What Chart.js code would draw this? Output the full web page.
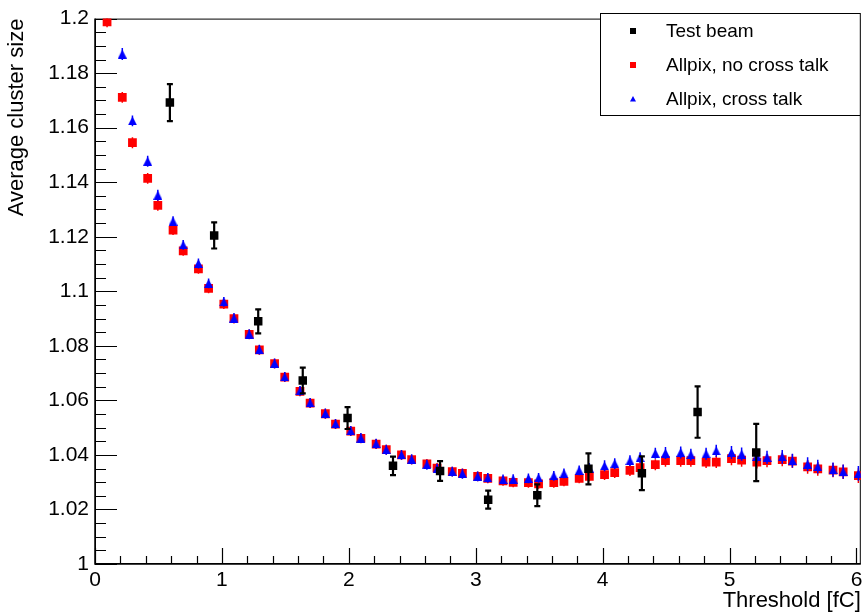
<!DOCTYPE html>
<html>
<head>
<meta charset="utf-8">
<title>Average cluster size vs threshold</title>
<script src="https://cdn.jsdelivr.net/npm/chart.js@4.4.0/dist/chart.umd.min.js"></script>
<style>
  html, body { margin: 0; padding: 0; background: #fff; }
  #plot { display: block; }
</style>
</head>
<body>
<canvas id="plot" width="867" height="614"></canvas>
<script>
// threshold scan points of the simulation (fC)
const thresholds = [0.095, 0.215, 0.295, 0.415, 0.495, 0.615, 0.695, 0.815, 0.895, 1.015,
    1.095, 1.215, 1.295, 1.415, 1.495, 1.615, 1.695, 1.815, 1.895, 2.015,
    2.095, 2.215, 2.295, 2.415, 2.495, 2.615, 2.695, 2.815, 2.895, 3.015,
    3.095, 3.215, 3.295, 3.415, 3.495, 3.615, 3.695, 3.815, 3.895, 4.015,
    4.095, 4.215, 4.295, 4.415, 4.495, 4.615, 4.695, 4.815, 4.895, 5.015,
    5.095, 5.215, 5.295, 5.415, 5.495, 5.615, 5.695, 5.815, 5.895, 6.015];

// Allpix without cross talk
const sizeNoCross = [1.1988, 1.1711, 1.1545, 1.1414, 1.1315, 1.1224, 1.1148, 1.1082, 1.1011, 1.0953,
    1.0900, 1.0842, 1.0785, 1.0735, 1.0685, 1.0633, 1.0590, 1.0551, 1.0513, 1.0487,
    1.0461, 1.0440, 1.0419, 1.0400, 1.0383, 1.0367, 1.0352, 1.0339, 1.0332, 1.0321,
    1.0314, 1.0305, 1.0299, 1.0298, 1.0294, 1.0298, 1.0303, 1.0314, 1.0321, 1.0328,
    1.0335, 1.0343, 1.0353, 1.0364, 1.0379, 1.0379, 1.0379, 1.0374, 1.0374, 1.0386,
    1.0381, 1.0374, 1.0379, 1.0383, 1.0377, 1.0356, 1.0349, 1.0344, 1.0338, 1.0324];
const errNoCross = [0.0020, 0.0020, 0.0020, 0.0020, 0.0020, 0.0018, 0.0018, 0.0018, 0.0018, 0.0018,
    0.0018, 0.0018, 0.0018, 0.0018, 0.0018, 0.0018, 0.0018, 0.0018, 0.0018, 0.0018,
    0.0018, 0.0018, 0.0018, 0.0018, 0.0018, 0.0018, 0.0018, 0.0018, 0.0018, 0.0018,
    0.0018, 0.0018, 0.0018, 0.0018, 0.0018, 0.0018, 0.0018, 0.0018, 0.0018, 0.0020,
    0.0020, 0.0020, 0.0020, 0.0020, 0.0022, 0.0022, 0.0022, 0.0022, 0.0022, 0.0024,
    0.0024, 0.0024, 0.0024, 0.0025, 0.0025, 0.0025, 0.0025, 0.0026, 0.0026, 0.0027];

// Allpix with cross talk (first point is above the frame)
const sizeCross = [null, 1.1870, 1.1625, 1.1477, 1.1352, 1.1257, 1.1170, 1.1102, 1.1029, 1.0961,
    1.0902, 1.0843, 1.0786, 1.0736, 1.0686, 1.0635, 1.0591, 1.0552, 1.0514, 1.0488,
    1.0462, 1.0441, 1.0419, 1.0400, 1.0384, 1.0364, 1.0350, 1.0339, 1.0331, 1.0321,
    1.0316, 1.0310, 1.0311, 1.0314, 1.0316, 1.0323, 1.0332, 1.0343, 1.0352, 1.0360,
    1.0368, 1.0379, 1.0390, 1.0406, 1.0407, 1.0409, 1.0401, 1.0404, 1.0415, 1.0409,
    1.0403, 1.0395, 1.0391, 1.0393, 1.0379, 1.0366, 1.0357, 1.0346, 1.0339, 1.0332];
const errCross = [0, 0.0022, 0.0020, 0.0020, 0.0020, 0.0018, 0.0018, 0.0018, 0.0018, 0.0018,
    0.0018, 0.0018, 0.0018, 0.0018, 0.0018, 0.0018, 0.0018, 0.0018, 0.0018, 0.0018,
    0.0018, 0.0018, 0.0018, 0.0018, 0.0018, 0.0018, 0.0018, 0.0018, 0.0018, 0.0018,
    0.0018, 0.0018, 0.0018, 0.0018, 0.0018, 0.0018, 0.0018, 0.0018, 0.0018, 0.0020,
    0.0020, 0.0020, 0.0020, 0.0020, 0.0022, 0.0022, 0.0022, 0.0022, 0.0022, 0.0024,
    0.0024, 0.0024, 0.0024, 0.0025, 0.0025, 0.0025, 0.0025, 0.0026, 0.0026, 0.0027];

// test beam measurements
const beamThreshold = [0.590, 0.939, 1.286, 1.637, 1.990, 2.348, 2.719, 3.098, 3.485, 3.888, 4.309, 4.748, 5.210];
const beamSize = [1.1692, 1.1205, 1.0890, 1.0673, 1.0535, 1.0360, 1.0341, 1.0236, 1.0252, 1.0349, 1.0333, 1.0557, 1.0409];
const beamErr = [0.0068, 0.0048, 0.0044, 0.0047, 0.0040, 0.0034, 0.0036, 0.0033, 0.0040, 0.0057, 0.0062, 0.0094, 0.0105];

const xTicks = [0, 1, 2, 3, 4, 5, 6];
const yTicks = [1, 1.02, 1.04, 1.06, 1.08, 1.1, 1.12, 1.14, 1.16, 1.18, 1.2];

const FONT = 'Liberation Sans, Arial, Helvetica, sans-serif';

function toPoints(xs, ys) {
    return xs.map((x, i) => ({ x: x, y: ys[i] }));
}

// upward triangle as an image so it can be taller than an equilateral one
function triangle(w, h, color) {
    const c = document.createElement('canvas');
    c.width = w;
    c.height = h;
    const g = c.getContext('2d');
    g.fillStyle = color;
    g.beginPath();
    g.moveTo(w / 2, 0);
    g.lineTo(w, h);
    g.lineTo(0, h);
    g.closePath();
    g.fill();
    return c;
}

// vertical error bars, drawn just before each dataset so markers sit on top
const errorBars = {
    id: 'errorBars',
    beforeDatasetDraw(chart, args) {
        const ds = chart.data.datasets[args.index];
        if (!ds.errors) return;
        const ctx = chart.ctx;
        const yScale = chart.scales.y;
        const area = chart.chartArea;
        ctx.save();
        ctx.beginPath();
        ctx.rect(area.left, area.top, area.right - area.left, area.bottom - area.top);
        ctx.clip();
        ctx.strokeStyle = ds.errColor;
        ctx.lineWidth = ds.errWidth;
        args.meta.data.forEach((pt, i) => {
            const v = ds.data[i].y;
            const e = ds.errors[i];
            if (v === null || !e) return;
            const top = yScale.getPixelForValue(v + e);
            const bot = yScale.getPixelForValue(v - e);
            ctx.beginPath();
            ctx.moveTo(pt.x, top);
            ctx.lineTo(pt.x, bot);
            if (ds.errCap) {
                ctx.moveTo(pt.x - ds.errCap, top);
                ctx.lineTo(pt.x + ds.errCap, top);
                ctx.moveTo(pt.x - ds.errCap, bot);
                ctx.lineTo(pt.x + ds.errCap, bot);
            }
            ctx.stroke();
        });
        ctx.restore();
    }
};

// frame with ticks pointing inwards, major and minor
const frame = {
    id: 'frame',
    beforeDatasetsDraw(chart) {
        const ctx = chart.ctx;
        const a = chart.chartArea;
        const xs = chart.scales.x;
        const ys = chart.scales.y;
        ctx.save();
        ctx.strokeStyle = '#000';
        ctx.lineWidth = 1;
        ctx.strokeRect(a.left + 0.5, a.top + 0.5, a.right - a.left - 1, a.bottom - a.top - 1);
        ctx.lineWidth = 1.5;
        ctx.beginPath();
        ctx.moveTo(a.left, a.top);
        ctx.lineTo(a.left, a.bottom);
        ctx.lineTo(a.right, a.bottom);
        ctx.stroke();
        ctx.lineWidth = 1.2;
        ctx.beginPath();
        for (let k = 0; k <= 40; k++) {
            const py = Math.round(ys.getPixelForValue(1 + k * 0.005)) + 0.5;
            const len = k % 4 === 0 ? 22 : 11;
            ctx.moveTo(a.left, py);
            ctx.lineTo(a.left + len, py);
        }
        for (let k = 0; k * 0.2 <= xs.max; k++) {
            const px = Math.round(xs.getPixelForValue(k * 0.2)) + 0.5;
            const len = k % 5 === 0 ? 16 : 8;
            ctx.moveTo(px, a.bottom);
            ctx.lineTo(px, a.bottom - len);
        }
        ctx.stroke();
        ctx.restore();
    }
};

// boxed legend in the top right corner
const legendBox = {
    id: 'legendBox',
    afterDraw(chart) {
        const ctx = chart.ctx;
        const left = 600, top = 13, right = chart.chartArea.right, bottom = 116;
        ctx.save();
        ctx.fillStyle = '#fff';
        ctx.fillRect(left, top, right - left, bottom - top);
        ctx.strokeStyle = '#000';
        ctx.lineWidth = 1;
        ctx.strokeRect(left + 0.5, top + 0.5, right - left - 1, bottom - top - 1);
        const rows = [
            { label: 'Test beam', color: '#000', shape: 'square' },
            { label: 'Allpix, no cross talk', color: '#ff0000', shape: 'square' },
            { label: 'Allpix, cross talk', color: '#0000ff', shape: 'triangle' }
        ];
        ctx.font = '19px ' + FONT;
        ctx.textBaseline = 'middle';
        rows.forEach((r, i) => {
            const cy = 31 + i * 34;
            ctx.fillStyle = r.color;
            if (r.shape === 'square') {
                ctx.fillRect(630, cy - 3, 6, 6);
            } else {
                ctx.beginPath();
                ctx.moveTo(633, cy - 3);
                ctx.lineTo(636, cy + 2.5);
                ctx.lineTo(630, cy + 2.5);
                ctx.closePath();
                ctx.fill();
            }
            ctx.fillStyle = '#000';
            ctx.fillText(r.label, 666, cy + 1);
        });
        ctx.restore();
    }
};

new Chart(document.getElementById('plot'), {
    type: 'scatter',
    data: {
        datasets: [
            {
                label: 'Test beam',
                data: toPoints(beamThreshold, beamSize),
                errors: beamErr,
                errColor: '#000',
                errWidth: 2.2,
                errCap: 3,
                pointStyle: 'rect',
                pointRadius: 6,
                backgroundColor: '#000',
                borderWidth: 0
            },
            {
                label: 'Allpix, cross talk',
                data: toPoints(thresholds, sizeCross),
                errors: errCross,
                errColor: '#0000ff',
                errWidth: 1.5,
                pointStyle: triangle(9, 9, '#0000ff'),
                backgroundColor: '#0000ff',
                borderWidth: 0
            },
            {
                label: 'Allpix, no cross talk',
                data: toPoints(thresholds, sizeNoCross),
                errors: errNoCross,
                errColor: '#ff0000',
                errWidth: 1.5,
                pointStyle: 'rect',
                pointRadius: 6.2,
                backgroundColor: '#ff0000',
                borderWidth: 0
            }
        ]
    },
    options: {
        responsive: false,
        animation: false,
        events: [],
        layout: { padding: { top: 13, right: 3, left: 0, bottom: 0 } },
        plugins: {
            legend: { display: false },
            tooltip: { enabled: false }
        },
        scales: {
            x: {
                type: 'linear',
                min: 0,
                max: 6.034,
                afterBuildTicks: s => { s.ticks = xTicks.map(v => ({ value: v })); },
                afterFit: s => { s.height = 50; },
                grid: { display: false, drawTicks: false },
                border: { display: false },
                ticks: {
                    autoSkip: false,
                    maxRotation: 0,
                    padding: 4,
                    color: '#000',
                    font: { family: FONT, size: 21 },
                    callback: v => String(v)
                },
                title: {
                    display: true,
                    text: 'Threshold [fC]',
                    align: 'end',
                    color: '#000',
                    padding: 0,
                    font: { family: FONT, size: 22 }
                }
            },
            y: {
                type: 'linear',
                min: 1,
                max: 1.2,
                afterBuildTicks: s => { s.ticks = yTicks.map(v => ({ value: v })); },
                afterFit: s => { s.width = 95; },
                grid: { display: false, drawTicks: false },
                border: { display: false },
                ticks: {
                    autoSkip: false,
                    padding: 6,
                    color: '#000',
                    font: { family: FONT, size: 21 },
                    callback: v => String(+v.toFixed(2))
                },
                title: {
                    display: true,
                    text: 'Average cluster size',
                    align: 'end',
                    color: '#000',
                    padding: { top: 4, bottom: 0 },
                    font: { family: FONT, size: 22 }
                }
            }
        }
    },
    plugins: [frame, errorBars, legendBox]
});
</script>
</body>
</html>
